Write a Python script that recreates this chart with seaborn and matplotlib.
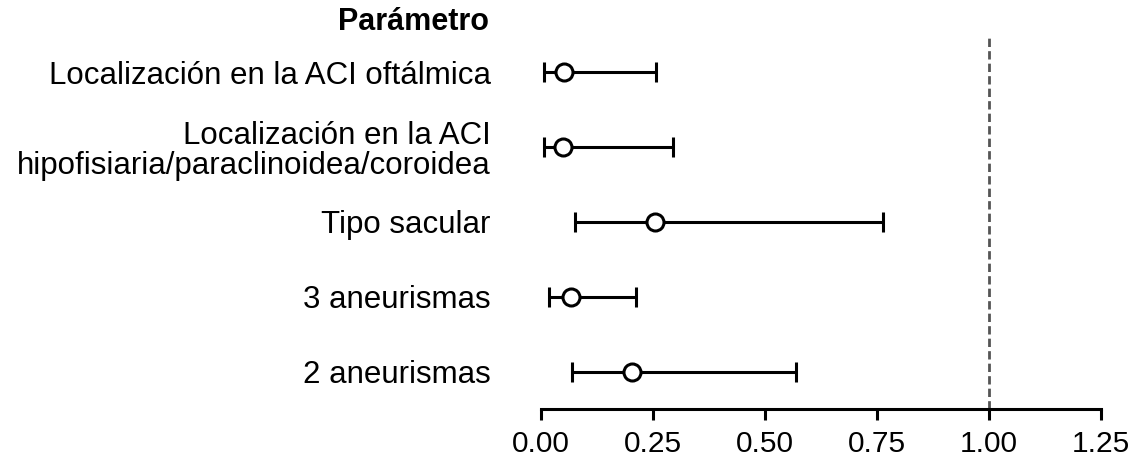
import matplotlib
matplotlib.use("Agg")
import matplotlib.pyplot as plt
import seaborn as sns
import pandas as pd
import numpy as np

parametros = [
    "Localización en la ACI oftálmica",
    "Localización en la ACI\nhipofisiaria/paraclinoidea/coroidea",
    "Tipo sacular",
    "3 aneurismas",
    "2 aneurismas",
]
estimacion = [0.051, 0.049, 0.254, 0.067, 0.203]
ic_inferior = [0.007, 0.007, 0.076, 0.018, 0.069]
ic_superior = [0.257, 0.295, 0.763, 0.212, 0.569]
x_ticks = [0.00, 0.25, 0.50, 0.75, 1.00, 1.25]
referencia = 1.0

sns.set_theme(style="white")
plt.rcParams['font.family'] = ['Liberation Sans', 'DejaVu Sans']
plt.rcParams['text.color'] = 'black'
plt.rcParams['xtick.color'] = 'black'
plt.rcParams['ytick.color'] = 'black'

df = pd.DataFrame({
    "parametro": parametros,
    "pos": np.arange(len(parametros)),
    "est": estimacion,
    "lo": ic_inferior,
    "hi": ic_superior,
})

fig = plt.figure(figsize=(11.41, 4.59), dpi=100)
ax = fig.add_axes([0.474, 0.109, 0.491, 0.815])

ax.axvline(referencia, color="#555555", lw=2.0, ls=(0, (3, 1.5)), zorder=1)

ax.errorbar(df["est"], df["pos"],
            xerr=[df["est"] - df["lo"], df["hi"] - df["est"]],
            fmt="none", ecolor="black", elinewidth=2.2, capsize=7,
            capthick=2.2, zorder=2)
sns.scatterplot(data=df, x="est", y="pos", ax=ax, marker="o", s=150,
                facecolor="white", edgecolor="black", linewidth=2.2,
                zorder=3, legend=False)

ax.set_xlim(0, 1.25)
ax.set_ylim(4.5, -0.5)
ax.set_xticks(x_ticks)
ax.set_xticklabels([f"{t:.2f}" for t in x_ticks], fontsize=21.5)
ax.set_yticks(df["pos"])
ax.set_yticklabels(parametros, fontsize=22.5, ha="right", linespacing=1.03)
ax.tick_params(axis="y", length=0, pad=36)
ax.tick_params(axis="x", length=8, width=2.2, color="black", pad=7,
               bottom=True, direction="out", labelcolor="black")
ax.set_xlabel("")
ax.set_ylabel("")

for s in ["left", "top", "right"]:
    ax.spines[s].set_visible(False)
ax.spines["bottom"].set_linewidth(2.2)
ax.spines["bottom"].set_color("black")

fig.text(489 / 1141, 1 - 22 / 459, "Parámetro", ha="right", va="center",
         fontsize=22, fontweight="bold", color="black")

fig.savefig("out.png", dpi=100, facecolor="white")
